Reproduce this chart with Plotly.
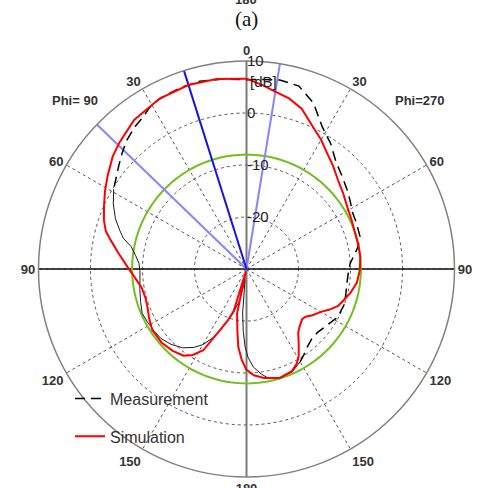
import numpy as np
import plotly.graph_objects as go

# ---------------- data ----------------
angle_tickvals = [0, 30, 60, 90, 120, 150, 180, 210, 240, 270, 300, 330]
angle_ticklabels = ["0", "30", "60", "90", "120", "150", "180", "150", "120", "90", "60", "30"]
radial_tickvals = [-20, -10, 0, 10]
radial_ticklabels = ["-20", "-10", "0", "10"]

# Simulation (plot angle: 0 top, counter-clockwise; left half = Phi 90, right half = Phi 270)
sim_theta = [0, 9, 17.5, 27, 37, 45, 50, 56, 61, 66, 71, 75, 78, 83, 89, 94, 100, 106, 111, 117,
             123, 131, 138, 144, 148, 152, 156.5, 160, 163, 165.5, 168, 171.5, 174, 177, 180, 184,
             189, 197, 204, 208, 211, 215, 219, 223, 228, 231, 235, 240, 244, 248, 252, 257, 263,
             269.5, 276, 282, 288, 295, 302, 308, 314, 320, 325, 330, 335, 341, 346, 351, 355, 360]
sim_db = [6.6, 7.0, 7.1, 6.8, 5.9, 4.5, 3.6, 2.2, 1.1, 0.0, -1.0, -2.0, -3.3, -5.2, -7.1, -8.4, -9.5,
          -9.8, -9.6, -9.0, -8.4, -8.4, -8.8, -9.4, -10.5, -12.3, -17.2, -19.5, -21.5, -29.5, -21.3,
          -18.1, -14.9, -12.5, -10.6, -9.5, -8.8, -8.1, -8.5, -9.4, -10.5, -12.5, -14.2, -15.0, -15.6,
          -15.4, -14.5, -13.5, -12.2, -11.0, -10.4, -9.5, -8.6, -8.2, -8.0, -8.0, -8.0, -7.7, -7.2,
          -6.4, -5.5, -4.1, -2.9, -1.3, 0.2, 2.6, 3.8, 4.6, 5.5, 6.6]

# Measurement
meas_theta = [0, 7, 14, 20, 26, 30, 34, 38, 43, 47, 51, 55, 59, 64, 69, 73, 76, 79, 83, 87, 91, 96,
              101, 107, 113, 118, 124, 129, 135, 141, 146, 150, 154, 157, 163, 168, 172, 175, 177,
              179, 181, 184, 188, 191, 197, 204, 210, 214, 218, 223, 228, 233, 237, 242, 250, 256,
              262, 268, 273, 277, 281, 286, 292, 298, 303, 308, 314, 320, 326, 332, 338, 344, 350,
              355, 360]
meas_db = [6.4, 6.8, 7.2, 7.1, 6.8, 6.5, 5.4, 4.8, 3.8, 2.7, 1.6, 0.6, -0.2, -1.5, -3.0, -4.5, -5.6,
           -7.4, -8.5, -9.3, -9.5, -9.4, -9.1, -8.7, -8.2, -8.4, -8.6, -8.8, -9.5, -10.5, -11.8, -13.2,
           -15.3, -17.2, -21.0, -24.0, -28.0, -21.5, -18.0, -15.0, -13.0, -11.1, -9.6, -8.7, -8.1,
           -8.35, -9.4, -10.2, -11.0, -11.6, -11.7, -11.3, -10.9, -10.2, -10.0, -10.3, -10.5, -10.4,
           -10.05, -9.2, -8.2, -7.3, -7.1, -6.9, -6.2, -5.4, -4.4, -3.2, -1.0, 1.0, 4.4, 6.6, 6.9,
           6.6, 6.4]
meas_solid_from, meas_solid_to = 59, 210   # part of the measured trace drawn solid

ref_level_db = -8.0          # green reference circle
beam_max_theta = [17.5]      # dark blue marker
beam_edge_theta = [46.0, 350.75]  # light blue markers

R_MIN, R_MAX = -30, 10

# ---------------- figure ----------------
fig = go.Figure()

# solid main axes (vertical + horizontal diameters)
fig.add_trace(go.Scatterpolar(r=[R_MAX, R_MAX], theta=[0, 180], mode="lines",
                              line=dict(color="#7a7a7a", width=2), showlegend=False, hoverinfo="skip"))
fig.add_trace(go.Scatterpolar(r=[R_MAX, R_MAX], theta=[90, 270], mode="lines",
                              line=dict(color="#111111", width=1.5), showlegend=False, hoverinfo="skip"))

# green reference circle
circ_theta = np.linspace(0, 360, 181)
fig.add_trace(go.Scatterpolar(r=[ref_level_db] * len(circ_theta), theta=circ_theta, mode="lines",
                              line=dict(color="#72bf1e", width=2), showlegend=False, hoverinfo="skip"))

# beam markers
for th in beam_edge_theta:
    fig.add_trace(go.Scatterpolar(r=[R_MIN, R_MAX], theta=[th, th], mode="lines",
                                  line=dict(color="#8585ff", width=2), showlegend=False, hoverinfo="skip"))
for th in beam_max_theta:
    fig.add_trace(go.Scatterpolar(r=[R_MIN, R_MAX], theta=[th, th], mode="lines",
                                  line=dict(color="#1414e6", width=2), showlegend=False, hoverinfo="skip"))

# measurement: solid part + dashed part
mt = np.array(meas_theta, dtype=float)
md = np.array(meas_db, dtype=float)
solid = (mt >= meas_solid_from) & (mt <= meas_solid_to)
dashed_idx = np.concatenate([np.where(mt >= meas_solid_to)[0], np.where(mt <= meas_solid_from)[0]])
fig.add_trace(go.Scatterpolar(r=md[solid], theta=mt[solid], mode="lines",
                              line=dict(color="#1a1a1a", width=1), showlegend=False, hoverinfo="skip"))
fig.add_trace(go.Scatterpolar(r=md[dashed_idx], theta=mt[dashed_idx], mode="lines",
                              name="Measurement", legendgroup="m",
                              line=dict(color="#000000", width=1.5, dash="10px,6px")))

# simulation
fig.add_trace(go.Scatterpolar(r=sim_db, theta=sim_theta, mode="lines", name="Simulation",
                              legendgroup="s", line=dict(color="#ff0000", width=2)))

cx0, cx1 = 38.5 / 484, 454.5 / 484
cy0, cy1 = (488 - 477) / 488, (488 - 61) / 488


def py(pix):
    return (488 - pix) / 488


fig.update_layout(
    width=484, height=488,
    margin=dict(l=0, r=0, t=0, b=0),
    paper_bgcolor="white",
    font=dict(family="Arial, Liberation Sans, sans-serif", color="#222"),
    polar=dict(
        domain=dict(x=[cx0, cx1], y=[cy0, cy1]),
        bgcolor="white",
        angularaxis=dict(
            rotation=90, direction="counterclockwise",
            tickmode="array", tickvals=angle_tickvals,
            ticktext=["<b>%s</b>" % t for t in angle_ticklabels],
            tickfont=dict(size=13, color="#333"),
            ticks="", showline=True, linecolor="#808080", linewidth=1.5,
            showgrid=True, gridcolor="#555", gridwidth=1, griddash="dot",
        ),
        radialaxis=dict(
            range=[R_MIN, R_MAX], tickmode="array", tickvals=radial_tickvals,
            ticktext=radial_ticklabels, angle=90, tickangle=90, side="clockwise",
            tickfont=dict(size=15, color="#222"), ticks="", showline=False,
            showgrid=True, gridcolor="#555", gridwidth=1, griddash="dot",
        ),
    ),
    legend=dict(x=70 / 484, y=0.218, xanchor="left", yanchor="top",
                bgcolor="rgba(0,0,0,0)", font=dict(size=16, color="#333"),
                traceorder="grouped", tracegroupgap=14, itemwidth=30),
    annotations=[
        dict(text="(a)", x=246 / 484, y=py(19), xref="paper", yref="paper",
             xanchor="center", yanchor="middle", showarrow=False,
             font=dict(family="Liberation Serif, Times New Roman, serif", size=21, color="#111")),
        dict(text="<b>180</b>", x=246 / 484, y=py(9), xref="paper", yref="paper",
             xanchor="center", yanchor="bottom", showarrow=False, font=dict(size=13, color="#333")),
        dict(text="<b>Phi= 90</b>", x=75 / 484, y=py(100), xref="paper", yref="paper",
             xanchor="center", yanchor="middle", showarrow=False, font=dict(size=13, color="#333")),
        dict(text="<b>Phi=270</b>", x=420 / 484, y=py(100), xref="paper", yref="paper",
             xanchor="center", yanchor="middle", showarrow=False, font=dict(size=13, color="#333")),
        dict(text="[dB]", x=263 / 484, y=py(81), xref="paper", yref="paper",
             xanchor="center", yanchor="middle", showarrow=False, font=dict(size=15, color="#222")),
    ],
)

fig.write_html("out.html", config={"displayModeBar": False},
               post_script="document.body.style.margin='0';")
